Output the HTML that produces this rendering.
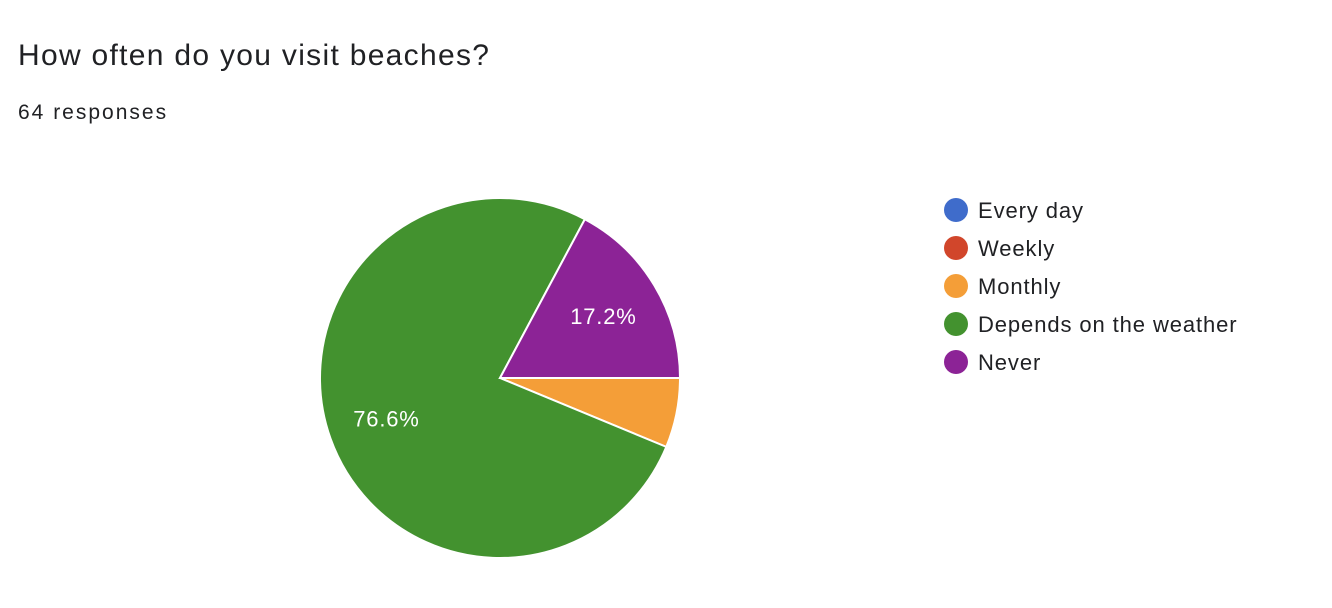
<!DOCTYPE html>
<html><head><meta charset="utf-8"><style>
body{margin:0;width:1332px;height:608px;background:#fff;font-family:"Liberation Sans",Arial,sans-serif;overflow:hidden;position:relative}
#title{position:absolute;left:18px;top:39px;font-size:30px;letter-spacing:1.3px;color:#202124}
#sub{position:absolute;left:18px;top:101px;font-size:21px;letter-spacing:2px;color:#202124}
</style></head><body>
<div id="title">How often do you visit beaches?</div>
<div id="sub">64 responses</div>
<svg id="chart" width="1332" height="608" style="position:absolute;left:0;top:0"></svg>
<script>
const categories=["Every day","Weekly","Monthly","Depends on the weather","Never"];
const values=[0,0,4,49,11];
const colors=["#3f6ccb","#d1462b","#f49e38","#43922f","#8c2396"];
const svg=document.getElementById('chart');const NS='http://www.w3.org/2000/svg';
const cx=500,cy=378,r=180;const total=values.reduce((a,b)=>a+b,0);
function pt(a,rr){return [cx+Math.sin(a)*rr,cy-Math.cos(a)*rr];}
let ang=Math.PI/2;
values.forEach((v,i)=>{
 if(v<=0)return;
 const sweep=v/total*2*Math.PI;const a0=ang,a1=ang+sweep;
 const p0=pt(a0,r),p1=pt(a1,r);
 const p=document.createElementNS(NS,'path');
 p.setAttribute('d',`M${cx},${cy}L${p0[0]},${p0[1]}A${r},${r} 0 ${sweep>Math.PI?1:0} 1 ${p1[0]},${p1[1]}Z`);
 p.setAttribute('fill',colors[i]);p.setAttribute('stroke','#fff');p.setAttribute('stroke-width','2');
 
 
 svg.appendChild(p);
 if(v/total>0.1){
  const m=pt((a0+a1)/2,r*0.67);
  const t=document.createElementNS(NS,'text');
  t.setAttribute('x',m[0]);t.setAttribute('y',m[1]+8);t.setAttribute('text-anchor','middle');
  t.setAttribute('fill','#fff');t.setAttribute('font-size','22');t.setAttribute('letter-spacing','0.8');
  t.textContent=(v/total*100).toFixed(1)+'%';
  
  
  svg.appendChild(t);
 }
 ang=a1;
});
categories.forEach((c,i)=>{
 const y=210+i*38;
 const g=document.createElementNS(NS,'g');
 
 
 const ci=document.createElementNS(NS,'circle');ci.setAttribute('cx',956);ci.setAttribute('cy',y);ci.setAttribute('r',12);ci.setAttribute('fill',colors[i]);
 const t=document.createElementNS(NS,'text');t.setAttribute('x',978);t.setAttribute('y',y+8);t.setAttribute('font-size','22');t.setAttribute('letter-spacing','0.9');t.setAttribute('fill','#202124');t.textContent=c;
 g.appendChild(ci);g.appendChild(t);svg.appendChild(g);
});
</script>
</body></html>
